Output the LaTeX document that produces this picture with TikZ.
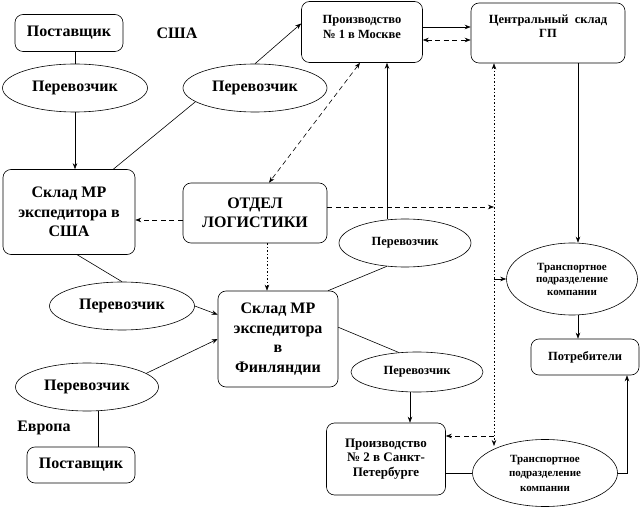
\documentclass[tikz,border=0pt]{standalone}
\usepackage{fontspec}
\setmainfont{Liberation Serif}
\usetikzlibrary{arrows.meta}
\usetikzlibrary{calc}
\usetikzlibrary{shapes.geometric}

\begin{document}
\begin{tikzpicture}[x=1pt,y=-1pt,line width=0.6pt,
	>={Stealth[length=6pt,width=4.5pt]},
	box/.style={draw,rounded corners=8pt,align=center,inner sep=2pt},
	oval/.style={draw,ellipse,align=center,inner sep=0pt},
	big/.style={font=\fontsize{16}{19.5}\selectfont\bfseries},
	mid/.style={font=\fontsize{12.5}{14.5}\selectfont\bfseries},
	sml/.style={font=\fontsize{11}{12.5}\selectfont\bfseries},
	ctrl/.style={dash pattern=on 5pt off 3.5pt},
	fine/.style={dash pattern=on 1.5pt off 2pt}]
\useasboundingbox (0,0) rectangle (642,510);
\coordinate (sp) at (494,0);
\coordinate (jM) at (387,0);
\coordinate (jC) at (578,0);
\coordinate (jD) at (267,0);
\coordinate (jE) at (98,0);
\coordinate (jF) at (410,0);
\coordinate (jR) at (627,0);
\coordinate (jT) at (0,27);
\coordinate (jT2) at (0,40);
\coordinate (jW) at (0,220);
\coordinate (jL) at (494,207);
\coordinate (jB) at (494,436);
\coordinate (spBot) at (494,446);
%USA
\node[box,big,minimum width=108,minimum height=37] (supUS) at (69,33) {Поставщик};
\node[big] (usa) at (177,33) {США};
\node[oval,big,minimum width=145,minimum height=48] (carA) at (75,88) {Перевозчик};
\node[oval,big,minimum width=144,minimum height=48] (carB) at (255,88) {Перевозчик};
\node[box,big,minimum width=132,minimum height=85] (whUS) at (69,212) {Склад МР\\экспедитора в\\США};
%Moscow
\node[box,minimum width=121,minimum height=61] (prod1) at (362,32) {};
\node[mid,align=center] (prod1t) at (362,27) {Производство\\№ 1 в Москве};
\node[box,minimum width=154,minimum height=60] (cent) at (548,33) {};
\node[mid,align=center] (centt) at (548,26) {Центральный\ \ склад\\ГП};
\node[box,big,minimum width=144,minimum height=60] (logi) at (255,213) {ОТДЕЛ\\ЛОГИСТИКИ};
\node[oval,mid,minimum width=132,minimum height=48] (carC) at (405,243) {Перевозчик};
\node[oval,sml,minimum width=131,minimum height=72] (trA) at (572,279) {Транспортное\\подразделение\\компании};
\node[box,mid,minimum width=108,minimum height=36] (cons) at (585,357) {Потребители};
%Finland, Europe
\node[oval,big,minimum width=145,minimum height=48] (carD) at (122,306) {Перевозчик};
\node[box,big,minimum width=120,minimum height=96] (whFI) at (278,339) {Склад МР\\экспедитора\\в\\Финляндии};
\node[oval,big,minimum width=143,minimum height=48] (carE) at (87,387) {Перевозчик};
\node[big] (eu) at (44,428) {Европа};
\node[box,big,minimum width=108,minimum height=36] (supEU) at (81,465) {Поставщик};
\node[oval,mid,minimum width=132,minimum height=40] (carF) at (417,372) {Перевозчик};
\node[box,font=\fontsize{13}{14.5}\selectfont\bfseries,minimum width=119,minimum height=72] (prod2) at (386,459) {Производство\\№ 2 в Санкт-\\Петербурге};
\node[oval,font=\fontsize{11}{14.5}\selectfont\bfseries,minimum width=145,minimum height=67] (trB) at (545,473) {Транспортное\\подразделение\\компании};
%flows
\draw (carA.north) -- (carA.north |- supUS.south);
\draw[->] (carA.south) -- (carA.south |- whUS.north);
\draw (whUS.44) -- (carB.193);
\draw[->] (carB.north) -- (prod1.172);
\draw[->] (prod1.east |- jT) -- (cent.west |- jT);
\draw[ctrl,<->] (prod1.east |- jT2) -- (cent.west |- jT2);
\draw[->] (jM |- carC.north) -- (jM |- prod1.south);
\draw (carC.232) -- (whFI.44);
\draw (whUS.281) -- (carD.north);
\draw[->] (carD.east) -- (whFI.158);
\draw[->] (carE.13) -- (whFI.west);
\draw (jE |- carE.south) -- (jE |- supEU.north);
\draw (whFI.11) -- (carF.133);
\draw[->] (jF |- carF.south) -- (jF |- prod2.north);
\draw (prod2.east |- trB.west) -- (trB.west);
\draw[->] (trB.east) -| (jR |- cons.south);
\draw[->] (jC |- cent.south) -- (jC |- trA.north);
\draw[->] (jC |- trA.south) -- (jC |- cons.north);
%control
\draw[ctrl,<->] ([xshift=-2pt]prod1.south) -- ([xshift=14pt]logi.north);
\draw[ctrl,->] (logi.west |- jW) -- (whUS.east |- jW);
\draw[ctrl,->] (logi.east |- jL) -- (jL);
\draw[fine,->] (jD |- logi.south) -- (jD |- whFI.north);
\draw[fine,<->] (sp |- cent.south) -- (spBot);
\draw[->] (sp |- trA.west) -- (trA.west);
\draw[ctrl,->] (jB) -- (prod2.east |- jB);
\end{tikzpicture}
\end{document}
